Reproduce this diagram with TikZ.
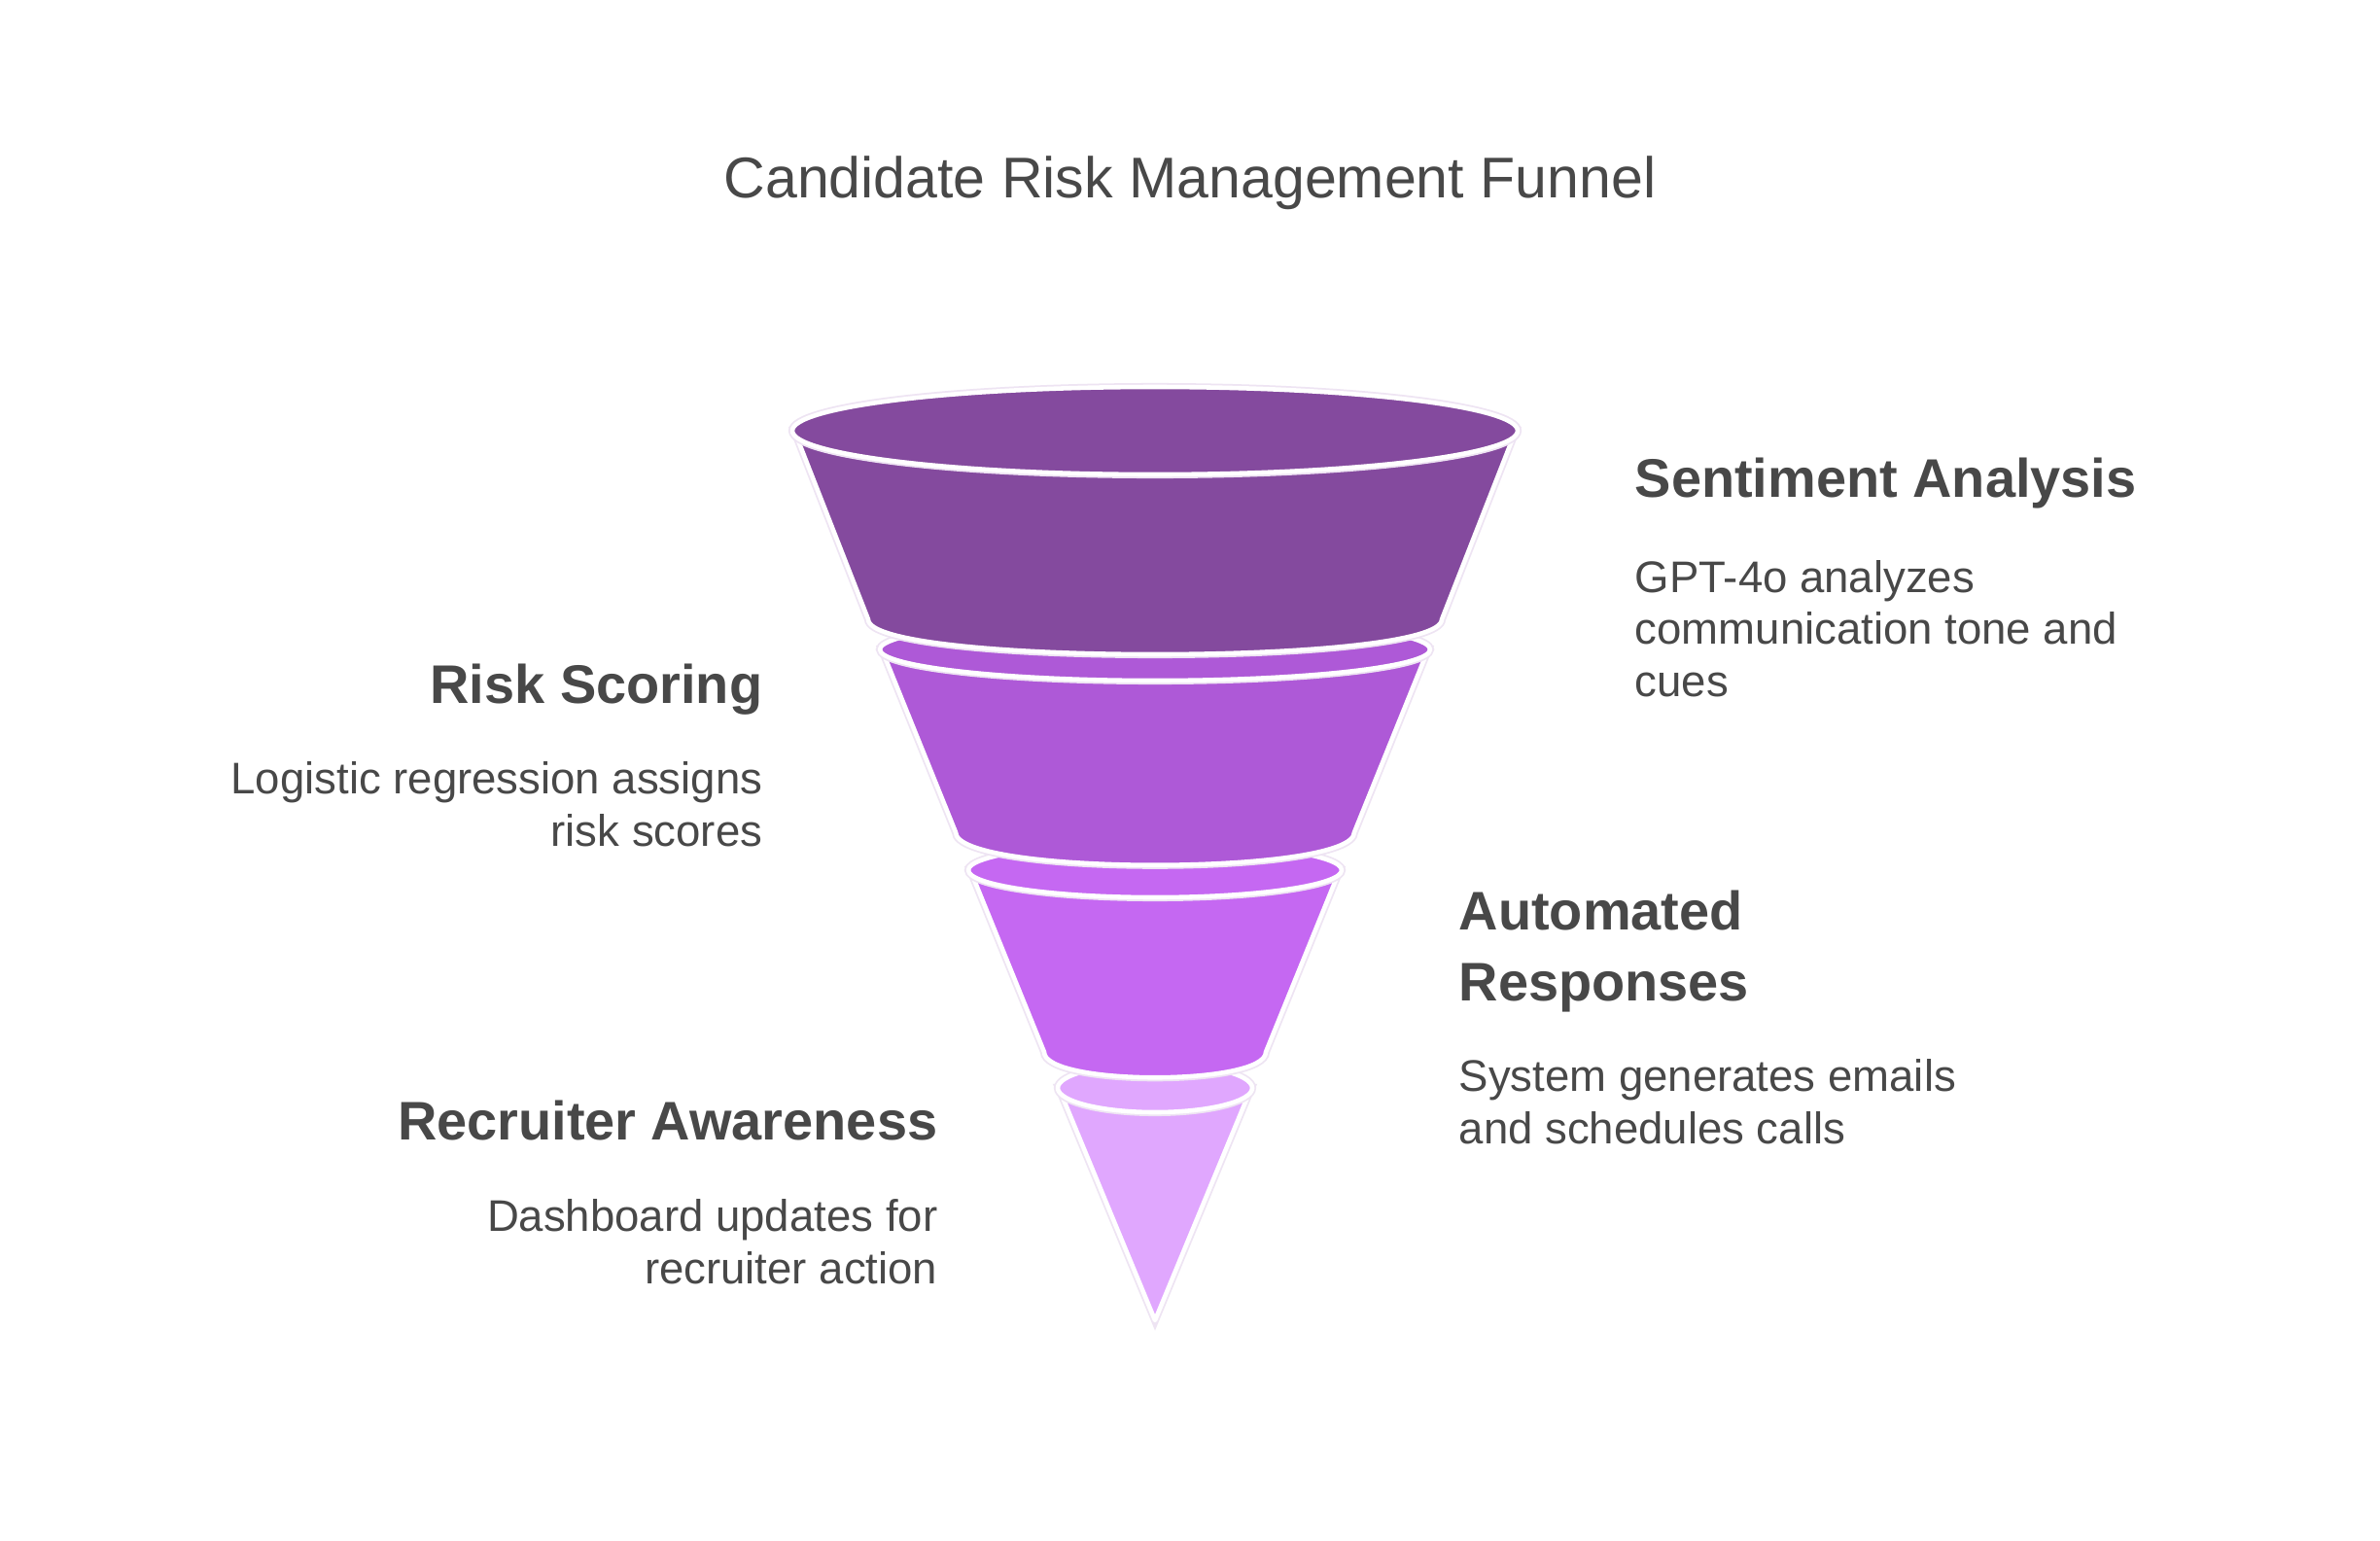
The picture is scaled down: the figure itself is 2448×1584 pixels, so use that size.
\documentclass[tikz,border=0pt]{standalone}
\usepackage{fontspec}
\setmainfont{Liberation Sans}
\definecolor{txt}{HTML}{484848}
\definecolor{cA}{HTML}{844A9E}
\definecolor{cB}{HTML}{AE59D7}
\definecolor{cC}{HTML}{C568F2}
\definecolor{cD}{HTML}{E0A7FE}
\definecolor{halocol}{HTML}{EEE4F3}
\begin{document}
\begin{tikzpicture}[x=0.01cm,y=-0.01cm,
  seg/.style={fill=#1, draw=white, line width=1.3pt, line join=round,
    preaction={draw=halocol, line width=2.3pt}},
  ttl/.style={font=\fontsize{16.8}{20}\selectfont, text=txt, inner sep=0pt},
  head/.style={font=\fontsize{15.9}{20.5}\selectfont\bfseries, text=txt, inner sep=0pt},
  body/.style={font=\fontsize{12.95}{15.1}\selectfont, text=txt, inner sep=0pt}]
\useasboundingbox[fill=white] (0,0) rectangle (2448,1584);
% segment 4 (bottom cone)
\path[seg=cD] (1089,1119) -- (1188,1358) -- (1287,1119) -- cycle;
\path[seg=cD] (1188,1119) ellipse [x radius=100, y radius=25];
% segment 3
\path[seg=cC] (998,895) -- (1074,1082) .. controls (1074,1117) and (1302,1117) .. (1302,1082) -- (1378,895) -- cycle;
\path[seg=cC] (1188,895) ellipse [x radius=192, y radius=28];
% segment 2
\path[seg=cB] (907,668) -- (983,856) .. controls (983,901) and (1393,901) .. (1393,856) -- (1469,668) -- cycle;
\path[seg=cB] (1188,668) ellipse [x radius=283, y radius=32];
% segment 1
\path[seg=cA] (817,443) -- (893,637) .. controls (893,685) and (1483,685) .. (1483,637) -- (1559,443) -- cycle;
\path[seg=cA] (1188,443) ellipse [x radius=373, y radius=45];
% texts (multi-line nodes anchored on the baseline of their last line)
\node[ttl, anchor=base] (title) at (1224,203) {Candidate Risk Management Funnel};
\node[head, anchor=base west] (h1) at (1681,511) {Sentiment Analysis};
\node[body, anchor=base west, align=left] (b1) at (1681,716) {GPT-4o analyzes\\communication tone and\\cues};
\node[head, anchor=base east] (h2) at (785,723) {Risk Scoring};
\node[body, anchor=base east, align=right] (b2) at (785,870) {Logistic regression assigns\\risk scores};
\node[head, anchor=base west, align=left] (h3) at (1500,1029) {Automated\\Responses};
\node[body, anchor=base west, align=left] (b3) at (1500,1176) {System generates emails\\and schedules calls};
\node[head, anchor=base east] (h4) at (965,1172) {Recruiter Awareness};
\node[body, anchor=base east, align=right] (b4) at (965,1320) {Dashboard updates for\\recruiter action};
\end{tikzpicture}
\end{document}
